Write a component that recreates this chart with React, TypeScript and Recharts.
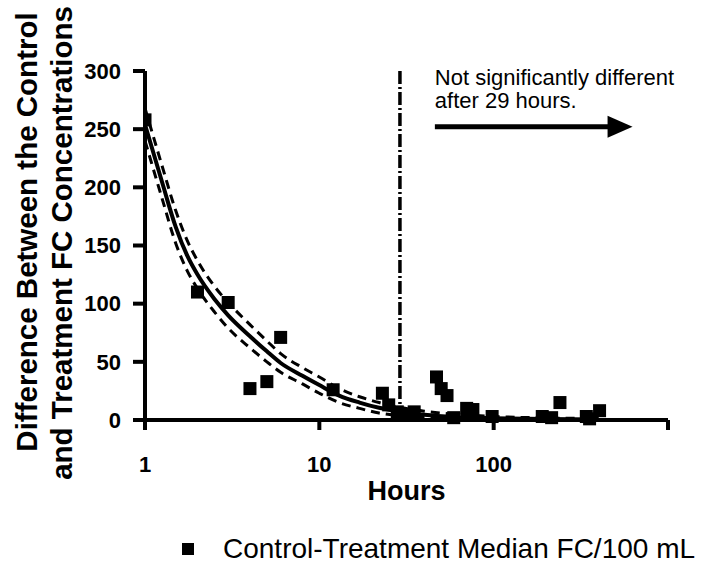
import React from "react";
import {
  ComposedChart,
  Line,
  Scatter,
  XAxis,
  YAxis,
  ReferenceLine,
  Legend,
  Label,
} from "recharts";

const FONT = "'Liberation Sans', Arial, Helvetica, sans-serif";

// observed medians (hours since start, control minus treatment)
const sampleHours = [1, 2, 3, 4, 5, 6, 12, 23, 25, 28, 30, 35, 47, 50, 54, 59, 70, 76, 98, 190, 215, 240, 340, 355, 405];
const sampleDiff = [258, 110, 101, 27, 33, 71, 26, 23, 13, 7, 4, 7, 37, 27, 21, 2, 10, 9, 3, 3, 2, 15, 3, 1, 8];

// decay fit with its 95% band
const fitHours = [1, 1.25, 1.5, 1.75, 2, 2.5, 3, 4, 5, 6, 8, 10, 13, 17, 22, 30, 40, 60, 100, 200, 400];
const fitMid = [254, 205, 166, 141, 125, 104, 90, 72, 59, 49, 38, 30, 21, 15, 10.5, 7, 4.5, 2.5, 1.5, 0.8, 0.5];
const fitUpper = [268, 219, 180, 154, 137, 115, 101, 82, 68, 57, 45, 37, 27, 20, 15, 10.5, 7.5, 5, 3, 1.8, 1.2];
const fitLower = [240, 191, 152, 128, 113, 93, 79, 62, 50, 41, 31, 23, 15, 10, 6, 3.5, 2, 0.5, 0, 0, 0];

const xTicks = [1, 10, 100, 1000];
const yTicks = [0, 50, 100, 150, 200, 250, 300];

const cutoffHour = 29;
const arrowFrom = 46;
const arrowTo = 626;
const arrowLevel = 252;

const samples = sampleHours.map((x, i) => ({ x, y: sampleDiff[i] }));
const mid = fitHours.map((x, i) => ({ x, y: fitMid[i] }));
const upper = fitHours.map((x, i) => ({ x, y: fitUpper[i] }));
const lower = fitHours.map((x, i) => ({ x, y: fitLower[i] }));

const Square = (p: any) => (
  <rect x={p.cx - 6.5} y={p.cy - 6.5} width={13} height={13} fill="#000" />
);

const YTitle = () => (
  <g fontFamily={FONT} fontWeight="bold" fontSize={29.5} fill="#000">
    <text x={37} y={232} transform="rotate(-90 37 232)" textAnchor="middle">
      Difference Between the Control
    </text>
    <text x={72} y={243} transform="rotate(-90 72 243)" textAnchor="middle">
      and Treatment FC Concentrations
    </text>
  </g>
);

const XTitle = (p: any) => {
  const vb = p.viewBox || {};
  return (
    <text
      x={vb.x + vb.width / 2}
      y={500}
      textAnchor="middle"
      fontFamily={FONT}
      fontWeight="bold"
      fontSize={27}
      fill="#000"
    >
      Hours
    </text>
  );
};

// arrow plus the note above it
const NoteArrow = (p: any) => {
  const { x1, y1, x2 } = p;
  return (
    <g>
      <text x={x1} y={y1 - 42} fontFamily={FONT} fontSize={22} fill="#000">
        Not significantly different
      </text>
      <text x={x1} y={y1 - 19} fontFamily={FONT} fontSize={22} fill="#000">
        after 29 hours.
      </text>
      <line x1={x1} y1={y1} x2={x2 - 22} y2={y1} stroke="#000" strokeWidth={5} />
      <polygon points={`${x2},${y1} ${x2 - 25},${y1 - 11} ${x2 - 25},${y1 + 11}`} fill="#000" />
    </g>
  );
};

const LegendBox = () => (
  <div
    style={{
      height: 36,
      display: "flex",
      alignItems: "center",
      paddingLeft: 182,
      fontFamily: FONT,
      fontSize: 28,
      color: "#000",
      whiteSpace: "nowrap",
    }}
  >
    <span
      style={{
        display: "inline-block",
        flexShrink: 0,
        width: 12,
        height: 12,
        background: "#000",
        marginRight: 29,
      }}
    />
    <span>Control-Treatment Median FC/100 mL</span>
  </div>
);

export default function App() {
  return (
    <div style={{ position: "absolute", left: 0, top: 0 }}>
      <ComposedChart
        width={703}
        height={567}
        margin={{ top: 71, right: 35, bottom: 0, left: 0 }}
      >
        <XAxis
          dataKey="x"
          type="number"
          scale="log"
          domain={[1, 1000]}
          ticks={xTicks}
          allowDataOverflow
          height={111}
          tickSize={10}
          tickMargin={26}
          tickFormatter={(v: number) => (v === 1000 ? "" : String(v))}
          axisLine={{ stroke: "#000", strokeWidth: 4 }}
          tickLine={{ stroke: "#000", strokeWidth: 4 }}
          tick={{ fill: "#000", fontSize: 22, fontWeight: "bold", fontFamily: FONT }}
        >
          <Label content={XTitle} />
        </XAxis>
        <YAxis
          type="number"
          domain={[0, 300]}
          ticks={yTicks}
          width={145}
          tickSize={12}
          tickMargin={12}
          axisLine={{ stroke: "#000", strokeWidth: 4 }}
          tickLine={{ stroke: "#000", strokeWidth: 4 }}
          tick={{ fill: "#000", fontSize: 22, fontWeight: "bold", fontFamily: FONT }}
        >
          <Label content={YTitle} />
        </YAxis>
        <Legend verticalAlign="bottom" align="left" content={LegendBox} />

        <ReferenceLine
          x={cutoffHour}
          stroke="#000"
          strokeWidth={3.5}
          strokeDasharray="13 3 2 3"
        />
        <ReferenceLine
          segment={[
            { x: arrowFrom, y: arrowLevel },
            { x: arrowTo, y: arrowLevel },
          ]}
          shape={NoteArrow}
        />

        <Line data={upper} dataKey="y" type="monotone" stroke="#000" strokeWidth={3} strokeDasharray="9 6" dot={false} isAnimationActive={false} />
        <Line data={lower} dataKey="y" type="monotone" stroke="#000" strokeWidth={3} strokeDasharray="9 6" dot={false} isAnimationActive={false} />
        <Line data={mid} dataKey="y" type="monotone" stroke="#000" strokeWidth={4} dot={false} isAnimationActive={false} />
        <Scatter data={samples} dataKey="y" shape={Square} isAnimationActive={false} />
      </ComposedChart>
    </div>
  );
}
